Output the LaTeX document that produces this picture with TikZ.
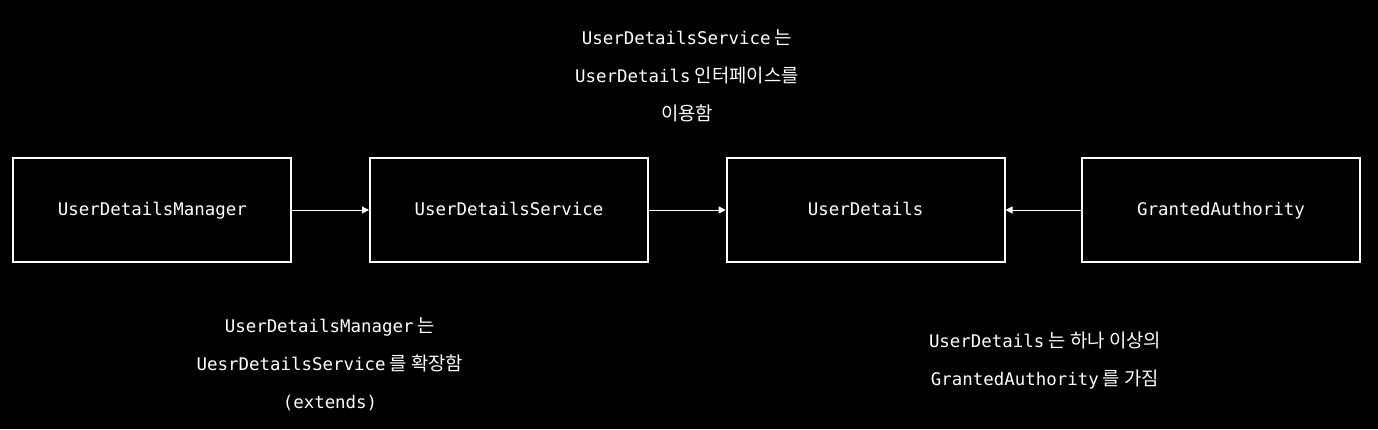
\documentclass[tikz,border=0pt]{standalone}
\usepackage{fontspec}
\setmainfont{DejaVu Sans Mono}
\newfontfamily\kr[Scale=1.08]{Noto Sans CJK KR}
\usetikzlibrary{arrows.meta}

\begin{document}
\begin{tikzpicture}[>={Triangle[length=5pt, width=5pt]},
    box/.style={draw=white, line width=1.3pt, minimum width=6.95cm, minimum height=2.6cm, align=center,
        text=white, text height=0.72em, text depth=0em, font=\fontsize{12.4}{15}\selectfont},
    note/.style={align=center, text=white, font=\fontsize{12.4}{27}\selectfont},
    link/.style={->, white, line width=0.6pt}]

    % 배경
    \useasboundingbox[fill=black] (0, 0) rectangle (34.45, 10.725);

    % 클래스 노드
    \node[box] (manager) at (3.81, 5.475) {UserDetailsManager};
    \node[box] (service) at (12.725, 5.475) {UserDetailsService};
    \node[box] (details) at (21.64, 5.475) {UserDetails};
    \node[box] (authority) at (30.525, 5.475) {GrantedAuthority};

    % 화살표
    \draw[link] (manager) -- (service);
    \draw[link] (service) -- (details);
    \draw[link] (authority) -- (details);

    % 설명
    \node[note] (note-service) at (17.175, 8.825) {UserDetailsService{\kr{} 는}\\UserDetails{\kr{} 인터페이스를}\\{\kr 이용함}};
    \node[note] (note-manager) at (8.25, 1.625) {UserDetailsManager{\kr{} 는}\\UesrDetailsService{\kr{} 를 확장함}\\(extends)};
    \node[note] (note-details) at (26.125, 1.71) {UserDetails{\kr{} 는 하나 이상의}\\GrantedAuthority{\kr{} 를 가짐}};
\end{tikzpicture}
\end{document}
